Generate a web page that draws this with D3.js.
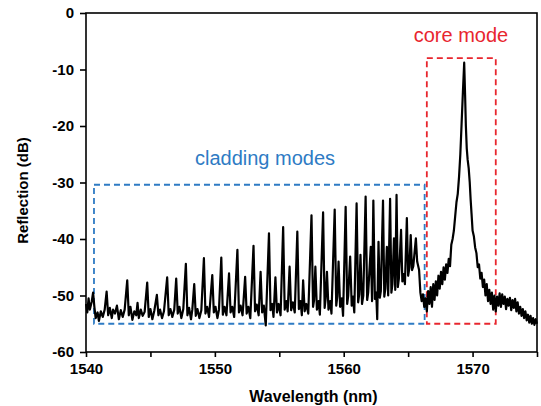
<!DOCTYPE html>
<html>
<head>
<meta charset="utf-8">
<script src="https://cdn.jsdelivr.net/npm/d3@7"></script>
<style>
  body { margin: 0; background: #fff; }
  text { font-family: "Liberation Sans", Arial, sans-serif; }
</style>
</head>
<body>
<div id="chart"></div>
<script>
// wavelength (nm) / reflection (dB)
const claddingTrace = [
  [1540.00, -51.5], [1540.10, -53.0], [1540.20, -50.5], [1540.30, -52.5], [1540.45, -51.0],
  [1540.55, -49.5], [1540.65, -52.0], [1540.75, -54.0], [1540.90, -53.0], [1541.00, -54.5],
  [1541.15, -52.8], [1541.30, -53.8], [1541.45, -52.5], [1541.60, -49.3], [1541.72, -53.5],
  [1541.85, -52.2], [1542.00, -54.0], [1542.10, -52.5], [1542.25, -53.2], [1542.40, -51.8],
  [1542.55, -54.2], [1542.70, -52.6], [1542.85, -53.8], [1543.00, -52.5], [1543.20, -47.3],
  [1543.32, -53.5], [1543.45, -52.0], [1543.60, -54.3], [1543.75, -52.8], [1543.90, -53.5],
  [1544.00, -51.3], [1544.10, -54.0], [1544.25, -52.5], [1544.40, -53.6], [1544.55, -52.9],
  [1544.75, -47.7], [1544.87, -53.8], [1545.00, -52.4], [1545.15, -54.2], [1545.30, -52.7],
  [1545.50, -49.9], [1545.62, -53.5], [1545.75, -52.5], [1545.90, -54.0], [1546.05, -52.8],
  [1546.30, -46.8], [1546.42, -53.5], [1546.55, -52.4], [1546.70, -53.8], [1546.85, -52.5],
  [1547.00, -47.0], [1547.12, -53.2], [1547.25, -52.0], [1547.40, -54.0], [1547.55, -52.4],
  [1547.75, -44.4], [1547.87, -53.5], [1548.00, -52.2], [1548.15, -54.2], [1548.25, -52.5],
  [1548.40, -48.0], [1548.52, -53.6], [1548.65, -52.4], [1548.80, -54.0], [1548.95, -52.6],
  [1549.15, -43.4], [1549.27, -53.2], [1549.40, -52.0], [1549.55, -53.8], [1549.80, -46.4],
  [1549.92, -53.0], [1550.05, -52.0], [1550.20, -54.0], [1550.32, -52.5], [1550.50, -43.3],
  [1550.62, -53.4], [1550.75, -52.0], [1550.90, -53.5], [1551.10, -46.1], [1551.22, -53.0],
  [1551.35, -52.0], [1551.50, -53.8], [1551.75, -41.9], [1551.87, -53.0], [1552.00, -51.8],
  [1552.15, -53.5], [1552.35, -46.7], [1552.47, -53.2], [1552.60, -52.0], [1552.75, -54.0],
  [1553.00, -41.2], [1553.12, -52.8], [1553.25, -51.6], [1553.40, -53.5], [1553.55, -45.8],
  [1553.67, -53.0], [1553.80, -51.8], [1553.95, -55.3], [1554.20, -39.0], [1554.32, -52.6],
  [1554.45, -51.5], [1554.55, -53.8], [1554.70, -46.8], [1554.82, -53.0], [1554.95, -51.5],
  [1555.10, -53.5], [1555.30, -37.9], [1555.42, -52.5], [1555.55, -51.0], [1555.65, -52.8],
  [1555.80, -44.9], [1555.92, -52.6], [1556.05, -51.2], [1556.20, -53.0], [1556.40, -38.7],
  [1556.52, -52.4], [1556.65, -51.0], [1556.75, -53.5], [1556.85, -47.3], [1556.97, -52.8],
  [1557.10, -51.5], [1557.25, -53.2], [1557.50, -35.8], [1557.62, -52.0], [1557.70, -50.8],
  [1557.80, -44.9], [1557.92, -52.5], [1558.05, -51.0], [1558.15, -53.4], [1558.40, -35.3],
  [1558.52, -52.2], [1558.60, -50.5], [1558.70, -45.8], [1558.82, -52.5], [1558.95, -51.0],
  [1559.05, -53.2], [1559.30, -34.8], [1559.42, -51.8], [1559.50, -50.2], [1559.60, -44.0],
  [1559.72, -52.0], [1559.85, -50.5], [1559.95, -53.6], [1560.15, -34.3], [1560.27, -51.5],
  [1560.35, -50.0], [1560.50, -43.1], [1560.62, -51.8], [1560.72, -50.2], [1560.82, -53.0],
  [1561.00, -33.7], [1561.12, -51.2], [1561.20, -49.8], [1561.30, -42.8], [1561.42, -51.5],
  [1561.52, -50.0], [1561.70, -32.5], [1561.82, -50.8], [1561.90, -49.5], [1562.10, -41.4],
  [1562.20, -51.0], [1562.30, -33.2], [1562.42, -50.6], [1562.52, -49.5], [1562.60, -54.2],
  [1562.70, -40.5], [1562.80, -50.4], [1562.88, -49.2], [1563.05, -33.2], [1563.15, -50.2],
  [1563.23, -48.8], [1563.35, -41.4], [1563.45, -50.0], [1563.60, -32.9], [1563.70, -49.5],
  [1563.78, -48.0], [1563.90, -39.9], [1564.00, -49.0], [1564.10, -32.2], [1564.20, -48.5],
  [1564.28, -47.0], [1564.45, -38.4], [1564.55, -47.5], [1564.65, -46.2], [1564.75, -48.0],
  [1564.90, -36.3], [1565.00, -46.5], [1565.10, -45.0], [1565.20, -39.3], [1565.30, -45.5],
  [1565.40, -44.8], [1565.60, -39.9], [1565.70, -44.0], [1565.85, -45.5], [1565.95, -49.5],
  [1566.05, -51.0], [1566.15, -49.8], [1566.25, -52.0]
];

const coreTrace = [
  [1566.35, -50.5], [1566.45, -52.8], [1566.55, -49.2], [1566.65, -51.5], [1566.75, -48.5],
  [1566.85, -52.0], [1566.95, -48.0], [1567.05, -50.8], [1567.15, -47.5], [1567.25, -50.0],
  [1567.35, -46.5], [1567.45, -48.8], [1567.55, -45.8], [1567.65, -48.0], [1567.75, -45.0],
  [1567.85, -47.2], [1567.95, -44.5], [1568.05, -46.0], [1568.15, -43.5], [1568.25, -44.8],
  [1568.35, -41.0], [1568.45, -40.0], [1568.55, -38.5], [1568.65, -36.0], [1568.75, -33.5],
  [1568.85, -32.0], [1568.95, -29.0], [1569.05, -25.0], [1569.15, -19.5], [1569.25, -14.0],
  [1569.35, -8.8], [1569.42, -14.5], [1569.48, -20.0], [1569.55, -24.0], [1569.62, -26.0],
  [1569.70, -27.5], [1569.78, -30.0], [1569.85, -33.0], [1569.92, -35.5], [1570.00, -38.5],
  [1570.10, -39.5], [1570.20, -41.5], [1570.30, -42.5], [1570.40, -45.0], [1570.50, -44.5],
  [1570.60, -47.0], [1570.70, -46.0], [1570.80, -48.5], [1570.90, -47.2], [1571.00, -50.0],
  [1571.10, -48.0], [1571.20, -51.0], [1571.30, -49.0], [1571.40, -51.5], [1571.50, -49.5],
  [1571.60, -52.5], [1571.70, -50.0], [1571.80, -52.8]
];

const tailTrace = [
  [1571.90, -50.2], [1572.00, -51.8], [1572.10, -49.6], [1572.20, -52.0], [1572.30, -49.8],
  [1572.40, -51.5], [1572.50, -50.2], [1572.60, -52.4], [1572.70, -50.6], [1572.80, -51.8],
  [1572.90, -50.4], [1573.00, -52.6], [1573.10, -50.8], [1573.20, -52.2], [1573.30, -50.6],
  [1573.40, -52.8], [1573.50, -51.2], [1573.60, -53.2], [1573.70, -52.0], [1573.80, -53.6],
  [1573.90, -52.4], [1574.00, -54.0], [1574.10, -52.8], [1574.20, -54.4], [1574.30, -53.4],
  [1574.40, -54.8], [1574.50, -53.6], [1574.60, -55.0], [1574.70, -54.0], [1574.80, -55.2],
  [1574.90, -54.2], [1575.00, -55.0]
];

const xTicks = [1540, 1550, 1560, 1570];
const xMinorTicks = [1545, 1555, 1565, 1575];
const yTicks = [0, -10, -20, -30, -40, -50, -60];

// annotation boxes, in data units: [wl0, wl1, dBtop, dBbottom]
const claddingBox = [1540.62, 1566.28, -30.4, -55.0];
const coreBox = [1566.45, 1571.8, -8.0, -55.0];

const width = 541, height = 406;
const margin = { top: 13, right: 4, bottom: 54, left: 86 };

const svg = d3.select("#chart").append("svg")
  .attr("width", width)
  .attr("height", height);

const x = d3.scaleLinear().domain([1540, 1575]).range([margin.left, width - margin.right]);
const y = d3.scaleLinear().domain([-60, 0]).range([height - margin.bottom, margin.top]);

// dashed boxes
function drawBox(b, color) {
  svg.append("rect")
    .attr("x", x(b[0]))
    .attr("y", y(b[2]))
    .attr("width", x(b[1]) - x(b[0]))
    .attr("height", y(b[3]) - y(b[2]))
    .attr("fill", "none")
    .attr("stroke", color)
    .attr("stroke-width", 1.8)
    .attr("stroke-dasharray", "6,4");
}
drawBox(claddingBox, "#2e7bc4");
drawBox(coreBox, "#e8262e");

// spectrum
const spectrum = claddingTrace.concat(coreTrace, tailTrace);
const line = d3.line()
  .x(d => x(d[0]))
  .y(d => y(d[1]));

svg.append("path")
  .datum(spectrum)
  .attr("d", line)
  .attr("fill", "none")
  .attr("stroke", "#000")
  .attr("stroke-width", 2.2)
  .attr("stroke-linejoin", "round");

// frame
svg.append("rect")
  .attr("x", x(1540))
  .attr("y", y(0))
  .attr("width", x(1575) - x(1540))
  .attr("height", y(-60) - y(0))
  .attr("fill", "none")
  .attr("stroke", "#000")
  .attr("stroke-width", 1.6);

// x axis
svg.append("g")
  .attr("transform", `translate(0,${y(-60)})`)
  .call(d3.axisBottom(x).tickValues(xTicks).tickFormat(d => d).tickSize(5).tickPadding(6));
svg.append("g")
  .attr("transform", `translate(0,${y(-60)})`)
  .call(d3.axisBottom(x).tickValues(xMinorTicks).tickFormat("").tickSize(5));

// y axis (plain hyphen for negatives, as in the figure)
svg.append("g")
  .attr("transform", `translate(${x(1540)},0)`)
  .call(d3.axisLeft(y).tickValues(yTicks).tickFormat(d => String(d)).tickSize(6).tickPadding(6));

svg.selectAll(".domain").remove();
svg.selectAll(".tick line").attr("stroke", "#000").attr("stroke-width", 1.6);
svg.selectAll(".tick text")
  .attr("fill", "#000")
  .style("font-family", "'Liberation Sans', Arial, sans-serif")
  .style("font-size", "15px")
  .style("font-weight", "bold");

// axis titles
svg.append("text")
  .attr("x", (x(1540) + x(1575)) / 2 + 2)
  .attr("y", 402)
  .attr("text-anchor", "middle")
  .style("font-size", "16px")
  .style("font-weight", "bold")
  .text("Wavelength (nm)");

svg.append("text")
  .attr("transform", `translate(28,${(y(0) + y(-60)) / 2 + 8}) rotate(-90)`)
  .attr("text-anchor", "middle")
  .style("font-size", "15px")
  .style("font-weight", "bold")
  .text("Reflection (dB)");

// annotations
svg.append("text")
  .attr("x", 265)
  .attr("y", 165)
  .attr("text-anchor", "middle")
  .attr("fill", "#2e7bc4")
  .style("font-size", "20px")
  .text("cladding modes");

svg.append("text")
  .attr("x", 461)
  .attr("y", 42)
  .attr("text-anchor", "middle")
  .attr("fill", "#e8262e")
  .style("font-size", "20px")
  .text("core mode");
</script>
</body>
</html>
